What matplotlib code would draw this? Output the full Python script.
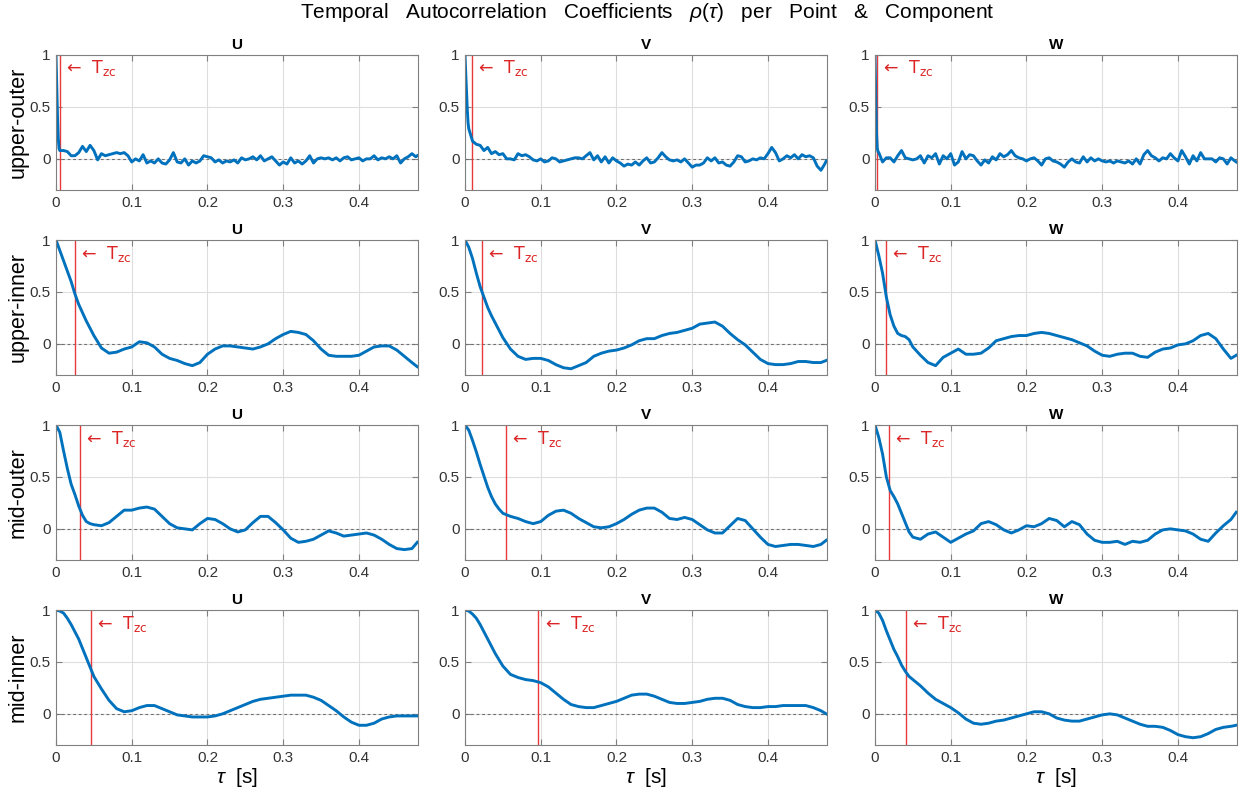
import matplotlib
matplotlib.use("Agg")
from matplotlib import pyplot as plt
import matplotlib.ticker as tck

plt.rcParams.update({
    "font.family": ["Liberation Sans", "DejaVu Sans"],
    "mathtext.fontset": "custom",
    "mathtext.rm": "Liberation Sans",
    "mathtext.it": "Liberation Sans:italic",
    "mathtext.bf": "Liberation Sans:bold",
    "axes.edgecolor": "#808080",
    "xtick.color": "#808080",
    "ytick.color": "#808080",
    "xtick.labelcolor": "#333333",
    "ytick.labelcolor": "#333333",
})

POINTS = ["upper-outer", "upper-inner", "mid-outer", "mid-inner"]
COMPONENTS = ["U", "V", "W"]

# lag grids in milliseconds
LAG_NOISY_MS = [0, 1, 2, 3, 4, 5, 10, 15, 20, 25, 30, 35, 40, 45, 50, 55, 60, 65,
                70, 75, 80, 85, 90, 95, 100, 105, 110, 115, 120, 125, 130, 135,
                140, 145, 150, 155, 160, 165, 170, 175, 180, 185, 190, 195, 200,
                205, 210, 215, 220, 225, 230, 235, 240, 245, 250, 255, 260, 265,
                270, 275, 280, 285, 290, 295, 300, 305, 310, 315, 320, 325, 330,
                335, 340, 345, 350, 355, 360, 365, 370, 375, 380, 385, 390, 395,
                400, 405, 410, 415, 420, 425, 430, 435, 440, 445, 450, 455, 460,
                465, 470, 475, 477]
LAG_SMOOTH_MS = [0, 5, 10, 15, 20, 25, 30, 35, 40, 45, 50, 60, 70, 80, 90, 100,
                 110, 120, 130, 140, 150, 160, 170, 180, 190, 200, 210, 220, 230,
                 240, 250, 260, 270, 280, 290, 300, 310, 320, 330, 340, 350, 360,
                 370, 380, 390, 400, 410, 420, 430, 440, 450, 460, 470, 477]

# upper-outer
rho_uo_u = [1.0, 0.7, 0.4, 0.2, 0.1, 0.08,
            0.08, 0.07, 0.03, 0.03, 0.06, 0.12, 0.07, 0.13, 0.08, -0.01, 0.05, 0.03,
            0.04, 0.05, 0.06, 0.05, 0.06, 0.03,
            -0.03, 0.0, -0.02, 0.04, -0.04, -0.02, -0.04, 0.0, -0.04, -0.05, -0.01,
            0.06, -0.03, -0.04, 0.0, -0.06, -0.02, -0.04, -0.02, 0.03,
            0.02, 0.01, -0.03, -0.01, -0.04, -0.02, -0.03, -0.01, -0.04, 0.01, -0.01,
            0.0, 0.02, -0.01, 0.03, -0.02, 0.0, 0.02, -0.02, -0.06,
            -0.03, -0.05, 0.01, -0.04, -0.02, -0.05, -0.02, 0.03, -0.04, 0.0, 0.01,
            0.0, 0.01, -0.01, 0.01, -0.02, 0.01, 0.02, -0.01, 0.0,
            0.01, -0.02, 0.0, 0.0, 0.03, -0.01, 0.01, 0.0, 0.02, 0.0, 0.03, -0.04,
            0.0, 0.02, 0.05, 0.02,
            0.03]
rho_uo_v = [1.0, 0.82, 0.65, 0.48, 0.35, 0.29,
            0.17, 0.14, 0.13, 0.08, 0.11, 0.05, 0.07, 0.04, 0.05, 0.0, 0.0, -0.01,
            0.05, 0.03, 0.04, 0.02, -0.01, -0.02,
            0.0, -0.03, -0.02, 0.01, 0.0, -0.03, -0.02, -0.01, 0.0, 0.01, 0.01, 0.0,
            0.03, 0.06, -0.01, 0.03, -0.03, 0.02, -0.04, 0.01,
            -0.02, -0.04, -0.07, -0.05, -0.06, -0.03, -0.06, -0.02, 0.01, -0.04,
            -0.03, 0.01, 0.06, 0.02, -0.01, -0.02, -0.01, -0.03, 0.0, -0.04,
            -0.08, -0.06, -0.06, -0.04, 0.01, -0.02, 0.01, -0.04, -0.03, -0.06,
            -0.07, -0.03, 0.03, 0.02, -0.03, -0.02, 0.0, -0.01, 0.01, 0.0,
            0.05, 0.11, 0.06, -0.02, 0.0, 0.03, 0.01, 0.04, 0.0, 0.04, 0.02, 0.03,
            0.01, -0.07, -0.11, -0.05,
            -0.02]
rho_uo_w = [1.0, 0.6, 0.25, 0.1, 0.07, 0.06,
            -0.03, 0.01, 0.01, -0.03, 0.03, 0.08, 0.01, 0.0, -0.01, 0.0, 0.03, -0.04,
            0.03, 0.01, 0.05, -0.05, 0.03, 0.0,
            0.05, -0.06, -0.03, 0.07, 0.0, 0.04, 0.03, -0.02, -0.06, -0.01, -0.04,
            0.02, -0.01, 0.05, 0.02, 0.04, 0.08, 0.03, 0.01, 0.0,
            -0.02, 0.0, 0.01, -0.02, -0.06, 0.0, 0.01, -0.02, -0.03, -0.05, -0.08,
            -0.03, 0.0, -0.03, -0.04, 0.02, -0.03, 0.01, -0.02, 0.0,
            -0.02, -0.03, -0.02, -0.04, -0.02, -0.03, -0.04, -0.02, -0.05, 0.0,
            -0.05, 0.04, 0.08, 0.03, 0.01, -0.02, 0.01, 0.0, 0.05, 0.01,
            -0.02, 0.08, 0.02, -0.05, 0.03, -0.02, 0.06, 0.0, 0.0, 0.0, -0.03, 0.01,
            0.0, -0.05, 0.01, -0.02,
            -0.03]

# upper-inner
rho_ui_u = [1.0, 0.90, 0.80, 0.70, 0.60, 0.48, 0.38, 0.30, 0.22, 0.15, 0.08,
            -0.04, -0.09, -0.08, -0.05, -0.03, 0.02, 0.01, -0.03, -0.10, -0.14,
            -0.16, -0.19, -0.21, -0.18, -0.10, -0.05, -0.02, -0.02, -0.03, -0.04,
            -0.05, -0.03, 0.0, 0.05, 0.09, 0.12, 0.11, 0.09, 0.03, -0.05,
            -0.11, -0.12, -0.12, -0.12, -0.11, -0.07, -0.03, -0.02, -0.02, -0.06,
            -0.12, -0.18, -0.22]
rho_ui_v = [1.0, 0.93, 0.82, 0.68, 0.55, 0.45, 0.35, 0.27, 0.20, 0.13, 0.06,
            -0.05, -0.12, -0.15, -0.14, -0.14, -0.16, -0.20, -0.23, -0.24, -0.21,
            -0.18, -0.12, -0.09, -0.07, -0.06, -0.04, -0.01, 0.03, 0.05, 0.05,
            0.08, 0.10, 0.11, 0.13, 0.15, 0.19, 0.20, 0.21, 0.17, 0.10,
            0.04, -0.01, -0.08, -0.15, -0.19, -0.20, -0.20, -0.19, -0.17, -0.17,
            -0.18, -0.18, -0.16]
rho_ui_w = [1.0, 0.85, 0.68, 0.45, 0.28, 0.17, 0.10, 0.08, 0.07, 0.04, -0.03,
            -0.11, -0.18, -0.21, -0.13, -0.09, -0.05, -0.10, -0.10, -0.09, -0.04,
            0.03, 0.05, 0.07, 0.08, 0.08, 0.10, 0.11, 0.10, 0.08, 0.06,
            0.04, 0.01, -0.02, -0.07, -0.11, -0.12, -0.10, -0.09, -0.09, -0.12,
            -0.13, -0.08, -0.05, -0.04, -0.01, 0.00, 0.03, 0.08, 0.10, 0.05,
            -0.05, -0.14, -0.11]

# mid-outer
rho_mo_u = [1.0, 0.93, 0.75, 0.58, 0.43, 0.33, 0.22, 0.13, 0.07, 0.05, 0.04,
            0.03, 0.06, 0.12, 0.18, 0.18, 0.20, 0.21, 0.19, 0.12, 0.05,
            0.01, 0.0, -0.01, 0.05, 0.10, 0.09, 0.05, 0.0, -0.03, -0.01,
            0.06, 0.12, 0.12, 0.06, -0.01, -0.09, -0.13, -0.12, -0.10, -0.06,
            -0.02, -0.04, -0.07, -0.06, -0.05, -0.04, -0.06, -0.10, -0.15, -0.19,
            -0.20, -0.19, -0.13]
rho_mo_v = [1.0, 0.95, 0.85, 0.74, 0.62, 0.51, 0.40, 0.31, 0.24, 0.19, 0.15,
            0.12, 0.10, 0.07, 0.05, 0.07, 0.13, 0.17, 0.18, 0.15, 0.10,
            0.06, 0.02, 0.01, 0.02, 0.05, 0.09, 0.14, 0.18, 0.20, 0.20,
            0.16, 0.10, 0.09, 0.11, 0.09, 0.04, -0.01, -0.04, -0.04, 0.03,
            0.10, 0.08, 0.0, -0.08, -0.15, -0.17, -0.16, -0.15, -0.15, -0.16,
            -0.17, -0.15, -0.11]
rho_mo_w = [1.0, 0.88, 0.72, 0.50, 0.37, 0.31, 0.24, 0.15, 0.06, -0.03, -0.08,
            -0.10, -0.05, -0.03, -0.08, -0.13, -0.09, -0.05, -0.02, 0.05, 0.07,
            0.04, -0.01, -0.04, -0.01, 0.03, 0.02, 0.05, 0.10, 0.08, 0.02,
            0.07, 0.04, -0.05, -0.11, -0.13, -0.13, -0.12, -0.15, -0.12, -0.13,
            -0.11, -0.05, -0.01, 0.0, -0.01, -0.02, -0.05, -0.10, -0.12, -0.04,
            0.03, 0.09, 0.16]

# mid-inner
rho_mi_u = [1.0, 0.99, 0.97, 0.92, 0.86, 0.79, 0.72, 0.63, 0.54, 0.45, 0.36,
            0.24, 0.13, 0.05, 0.02, 0.03, 0.06, 0.08, 0.08, 0.05, 0.02,
            -0.01, -0.02, -0.03, -0.03, -0.03, -0.02, 0.0, 0.03, 0.06, 0.09,
            0.12, 0.14, 0.15, 0.16, 0.17, 0.18, 0.18, 0.18, 0.16, 0.13,
            0.08, 0.03, -0.03, -0.08, -0.11, -0.11, -0.09, -0.05, -0.03, -0.02,
            -0.02, -0.02, -0.02]
rho_mi_v = [1.0, 0.99, 0.96, 0.92, 0.86, 0.79, 0.72, 0.65, 0.58, 0.52, 0.46,
            0.38, 0.35, 0.33, 0.32, 0.30, 0.26, 0.20, 0.14, 0.09, 0.07,
            0.06, 0.06, 0.08, 0.10, 0.12, 0.15, 0.18, 0.19, 0.19, 0.17,
            0.14, 0.11, 0.10, 0.10, 0.11, 0.12, 0.14, 0.15, 0.15, 0.13,
            0.09, 0.07, 0.06, 0.06, 0.07, 0.07, 0.08, 0.08, 0.08, 0.08,
            0.06, 0.03, 0.0]
rho_mi_w = [1.0, 0.97, 0.90, 0.80, 0.71, 0.62, 0.55, 0.47, 0.41, 0.36, 0.33,
            0.27, 0.20, 0.14, 0.10, 0.06, 0.01, -0.05, -0.09, -0.10, -0.09,
            -0.07, -0.06, -0.04, -0.02, 0.0, 0.02, 0.02, 0.0, -0.04, -0.06,
            -0.07, -0.07, -0.05, -0.03, -0.01, 0.0, -0.01, -0.04, -0.07, -0.10,
            -0.12, -0.12, -0.13, -0.16, -0.20, -0.22, -0.23, -0.22, -0.19, -0.15,
            -0.13, -0.12, -0.11]

RHO = [[rho_uo_u, rho_uo_v, rho_uo_w],
       [rho_ui_u, rho_ui_v, rho_ui_w],
       [rho_mo_u, rho_mo_v, rho_mo_w],
       [rho_mi_u, rho_mi_v, rho_mi_w]]
LAGS_MS = [LAG_NOISY_MS, LAG_SMOOTH_MS, LAG_SMOOTH_MS, LAG_SMOOTH_MS]

# zero-crossing time T_zc [s]
T_ZC = [[0.005, 0.009, 0.003],
        [0.025, 0.023, 0.015],
        [0.032, 0.054, 0.018],
        [0.046, 0.097, 0.041]]

XTICKS = [0, 0.1, 0.2, 0.3, 0.4]
YTICKS = [0, 0.5, 1]

W, H = 1259, 796
fig = plt.figure(figsize=(W / 100, H / 100), dpi=100)

col_left = [56, 465, 875]
row_top = [55, 240, 425, 610]
ax_w, ax_h = 362, 135

for r, point in enumerate(POINTS):
    tau = [ms / 1000 for ms in LAGS_MS[r]]
    for c, comp in enumerate(COMPONENTS):
        ax = fig.add_axes([col_left[c] / W, 1 - (row_top[r] + ax_h) / H,
                           ax_w / W, ax_h / H])
        ax.grid(True, color="#dedede", linewidth=0.8)
        ax.set_axisbelow(True)
        ax.axhline(0, color="#707070", linewidth=0.8, linestyle=(0, (2.5, 2.5)))
        ax.axvline(T_ZC[r][c], color="#e8393c", linewidth=1.0)
        ax.plot(tau, RHO[r][c], color="#0072BD", linewidth=2.1,
                solid_joinstyle="round")
        ax.text(T_ZC[r][c] + 0.008, 0.87, r"←  $\mathregular{T_{zc}}$",
                color="#dc2626", fontsize=12.5, va="center", ha="left",
                family=["DejaVu Sans"])
        ax.set_xlim(0, 0.478)
        ax.set_ylim(-0.3, 1)
        ax.set_xticks(XTICKS)
        ax.set_yticks(YTICKS)
        ax.xaxis.set_major_formatter(tck.FuncFormatter(lambda v, p: f"{v:g}"))
        ax.yaxis.set_major_formatter(tck.FuncFormatter(lambda v, p: f"{v:g}"))
        ax.tick_params(axis="both", which="both", direction="in", length=4,
                       width=0.8, labelsize=11, top=True, right=True, pad=4)
        ax.set_title(comp, fontsize=11, fontweight="bold", pad=4)
        if r == len(POINTS) - 1:
            ax.set_xlabel(r"$\tau$  [s]", fontsize=15, labelpad=1)
    yc = 1 - (row_top[r] + ax_h / 2) / H
    fig.text(18 / W, yc, point, rotation=90, ha="center", va="center",
             fontsize=15.5)

fig.text(647 / W, 1 - 13 / H,
         r"Temporal   Autocorrelation   Coefficients   $\rho(\tau)$   per   Point   &   Component",
         ha="center", va="center", fontsize=15)

fig.savefig("out.png", dpi=100)
